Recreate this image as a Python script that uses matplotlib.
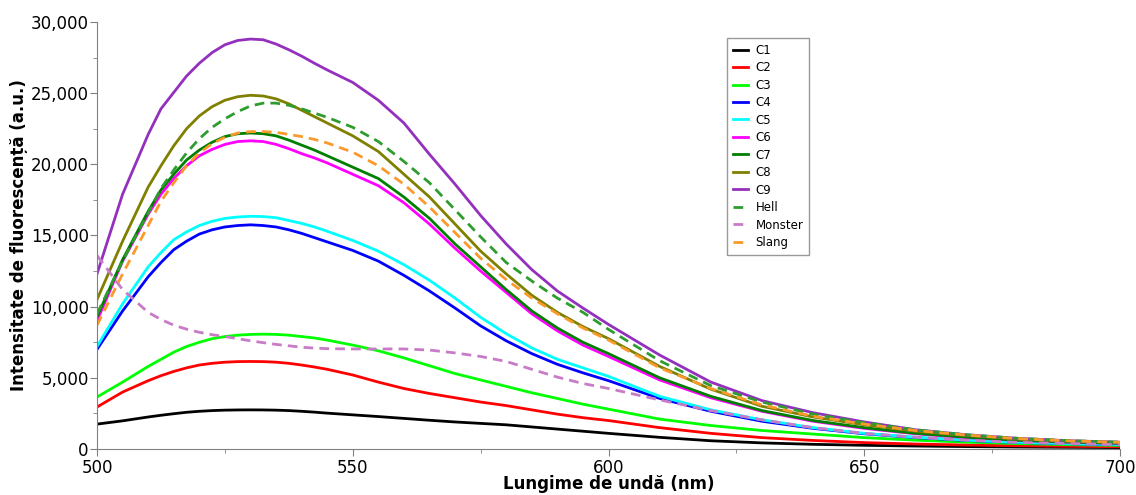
import numpy as np
import matplotlib.pyplot as plt
from matplotlib.ticker import FuncFormatter, MultipleLocator

# Wavelengths (nm)
wavelength = [500, 505, 510, 512.5, 515, 517.5, 520, 522.5, 525, 527.5, 530, 532.5, 535, 537.5, 540, 542.5, 545,
              550, 555, 560, 565, 570, 575, 580, 585, 590, 595, 600, 610, 620, 630, 640, 650, 660, 670, 680, 690, 700]

# Fluorescence intensity (a.u.)
c1 = [1750, 1980, 2250, 2370, 2480, 2580, 2650, 2700, 2730, 2745, 2750, 2745, 2730, 2700, 2650, 2590, 2520,
      2400, 2280, 2150, 2020, 1900, 1800, 1700, 1550, 1400, 1250, 1100, 820, 580, 430, 330, 260, 210, 170, 140, 120, 100]
c2 = [2950, 4000, 4800, 5150, 5450, 5700, 5900, 6020, 6100, 6140, 6150, 6140, 6100, 6020, 5900, 5760, 5600,
      5200, 4700, 4250, 3900, 3600, 3300, 3050, 2750, 2450, 2200, 2000, 1500, 1100, 800, 600, 450, 350, 280, 230, 190, 160]
c3 = [3650, 4700, 5800, 6300, 6800, 7200, 7500, 7750, 7900, 8000, 8050, 8070, 8050, 8000, 7900, 7800, 7650,
      7300, 6900, 6400, 5850, 5300, 4850, 4400, 3950, 3550, 3150, 2800, 2100, 1650, 1300, 1050, 800, 620, 480, 380, 300, 250]
c4 = [7000, 9700, 12100, 13100, 14000, 14600, 15100, 15400, 15600, 15700, 15750, 15700, 15600, 15400, 15150, 14850, 14550,
      13950, 13200, 12200, 11100, 9900, 8650, 7600, 6700, 5950, 5350, 4800, 3550, 2650, 1950, 1450, 1070, 800, 600, 460, 370, 300]
c5 = [7200, 10200, 12800, 13800, 14700, 15250, 15700, 16000, 16200, 16300, 16350, 16330, 16250, 16050, 15850, 15600, 15300,
      14650, 13900, 12950, 11850, 10600, 9250, 8100, 7100, 6300, 5700, 5100, 3700, 2750, 2050, 1500, 1100, 830, 620, 470, 380, 310]
c6 = [9000, 13200, 16500, 17900, 19000, 19900, 20600, 21050, 21400, 21600, 21650, 21600, 21400, 21100, 20750, 20450, 20100,
      19300, 18500, 17300, 15800, 14100, 12500, 11000, 9500, 8300, 7300, 6500, 4850, 3600, 2650, 1950, 1450, 1070, 800, 600, 470, 390]
c7 = [9300, 13300, 16700, 18200, 19300, 20300, 21000, 21550, 21950, 22150, 22200, 22150, 22000, 21700, 21350, 21000, 20600,
      19800, 19000, 17700, 16200, 14400, 12800, 11200, 9700, 8500, 7500, 6700, 5000, 3700, 2700, 2000, 1500, 1100, 830, 620, 490, 400]
c8 = [10500, 14600, 18400, 19900, 21300, 22500, 23400, 24050, 24500, 24750, 24850, 24800, 24600, 24250, 23800, 23350, 22900,
      22000, 20900, 19300, 17700, 15800, 13900, 12300, 10800, 9600, 8600, 7750, 5800, 4200, 3000, 2250, 1700, 1250, 950, 700, 560, 450]
c9 = [12300, 17900, 22100, 23900, 25050, 26200, 27100, 27850, 28400, 28700, 28800, 28750, 28450, 28050, 27600, 27100, 26630,
      25750, 24500, 22900, 20700, 18600, 16400, 14400, 12600, 11100, 9900, 8750, 6600, 4700, 3400, 2550, 1900, 1350, 1000, 750, 580, 480]
hell = [9500, 13200, 16600, 18300, 19600, 20800, 21800, 22600, 23200, 23700, 24100, 24300, 24300, 24150, 23900, 23600, 23300,
        22600, 21600, 20200, 18700, 16800, 14900, 13100, 11800, 10600, 9600, 8400, 6200, 4450, 3300, 2450, 1850, 1350, 1000, 750, 590, 480]
monster = [13600, 11200, 9600, 9100, 8700, 8420, 8200, 8030, 7900, 7750, 7600, 7470, 7350, 7250, 7150, 7090, 7050,
           7030, 7030, 7030, 6950, 6750, 6500, 6150, 5600, 5050, 4600, 4250, 3450, 2700, 2050, 1500, 1100, 830, 620, 470, 380, 310]
slang = [8700, 12300, 15700, 17400, 18700, 19900, 20800, 21450, 21900, 22200, 22300, 22300, 22250, 22100, 21950, 21750, 21500,
         20850, 19900, 18600, 17000, 15200, 13400, 11900, 10600, 9500, 8500, 7650, 5700, 4250, 3100, 2300, 1750, 1300, 980, 730, 570, 470]

series = [
    ('C1', c1, '#000000', '-'),
    ('C2', c2, '#ff0000', '-'),
    ('C3', c3, '#00ff00', '-'),
    ('C4', c4, '#0000ff', '-'),
    ('C5', c5, '#00ffff', '-'),
    ('C6', c6, '#ff00ff', '-'),
    ('C7', c7, '#007f00', '-'),
    ('C8', c8, '#808000', '-'),
    ('C9', c9, '#9330bd', '-'),
    ('Hell', hell, '#2e9c2e', (0, (3.5, 2.2))),
    ('Monster', monster, '#c87bc6', (0, (3.5, 2.2))),
    ('Slang', slang, '#fb9a2c', (0, (3.5, 2.2))),
]

fig = plt.figure(figsize=(11.36, 4.95), dpi=100)
ax = fig.add_axes([0.0854, 0.0929, 0.9006, 0.8627])

for name, vals, color, ls in series:
    ax.plot(wavelength, vals, color=color, linestyle=ls, linewidth=2.0, label=name,
            solid_joinstyle='round')

ax.set_xlim(500, 700)
ax.set_ylim(0, 30000)
ax.xaxis.set_major_locator(MultipleLocator(50))
ax.xaxis.set_minor_locator(MultipleLocator(25))
ax.yaxis.set_major_locator(MultipleLocator(5000))
ax.yaxis.set_minor_locator(MultipleLocator(2500))
ax.yaxis.set_major_formatter(FuncFormatter(lambda v, p: f'{int(v):,}'))

for s in ['top', 'right']:
    ax.spines[s].set_visible(False)
for s in ['left', 'bottom']:
    ax.spines[s].set_color('#808080')
ax.tick_params(which='major', direction='out', length=5, color='#808080', labelsize=12)
ax.tick_params(axis='y', which='major', pad=1)
ax.tick_params(axis='x', which='major', pad=2)
ax.tick_params(which='minor', direction='out', length=3, color='#808080')

ax.set_xlabel('Lungime de undă (nm)', fontsize=12, fontweight='bold', labelpad=-1)
ax.set_ylabel('Intensitate de fluorescență (a.u.)', fontsize=12, fontweight='bold', labelpad=2)

leg = ax.legend(loc='upper left', bbox_to_anchor=(0.616, 0.963), fontsize=8.5,
                frameon=True, fancybox=False, edgecolor='#808080', handlelength=1.3,
                handletextpad=0.6, labelspacing=0.38, borderpad=0.5, borderaxespad=0)
leg.get_frame().set_linewidth(1.0)

fig.savefig('out.png', dpi=100)
